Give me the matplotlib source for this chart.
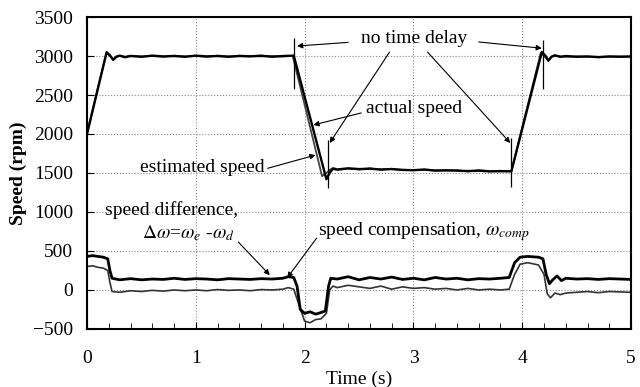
import matplotlib
matplotlib.use("Agg")
import matplotlib.pyplot as plt
from matplotlib.ticker import MultipleLocator

plt.rcParams["font.family"] = ["Liberation Serif", "DejaVu Serif"]
plt.rcParams["mathtext.fontset"] = "stix"

# ── Data ──────────────────────────────────────────────────────────────────
t_act = [0.00, 0.06, 0.12, 0.18, 0.21, 0.24, 0.27, 0.30, 0.35, 0.40, 0.50, 0.60,
         0.70, 0.80, 0.90, 1.00, 1.10, 1.20, 1.30, 1.40, 1.50, 1.60, 1.70, 1.80,
         1.90, 2.20, 2.23, 2.26, 2.30, 2.40, 2.50, 2.60, 2.70, 2.80, 2.90, 3.00,
         3.10, 3.20, 3.30, 3.40, 3.50, 3.60, 3.70, 3.80, 3.90, 4.18, 4.21, 4.24,
         4.27, 4.30, 4.35, 4.40, 4.50, 4.60, 4.70, 4.80, 4.90, 5.00]
spd_act = [2000, 2350, 2700, 3050, 3010, 2950, 2990, 3005, 2985, 3000, 2990, 3005,
           2995, 3000, 2990, 3005, 2995, 3000, 2990, 3000, 2995, 3005, 2990, 3000,
           3005, 1420, 1500, 1560, 1545, 1560, 1550, 1555, 1545, 1550, 1540, 1535,
           1545, 1530, 1535, 1530, 1525, 1530, 1520, 1525, 1520, 3050, 3010, 2940,
           2990, 3010, 2990, 3000, 2990, 2995, 2985, 2995, 2990, 2995]

t_est = [0.00, 0.06, 0.12, 0.18, 0.21, 0.24, 0.27, 0.30, 0.35, 0.40, 0.50, 0.60,
         0.70, 0.80, 0.90, 1.00, 1.10, 1.20, 1.30, 1.40, 1.50, 1.60, 1.70, 1.80,
         1.89, 2.16, 2.20, 2.24, 2.30, 2.40, 2.50, 2.60, 2.70, 2.80, 2.90, 3.00,
         3.10, 3.20, 3.30, 3.40, 3.50, 3.60, 3.70, 3.80, 3.90, 4.17, 4.20, 4.24,
         4.27, 4.30, 4.35, 4.40, 4.50, 4.60, 4.70, 4.80, 4.90, 5.00]
spd_est = [2010, 2360, 2710, 3040, 3000, 2960, 2995, 3000, 2990, 3005, 2995, 3000,
           2990, 3005, 2995, 3000, 2990, 3005, 2995, 3005, 3000, 2995, 3000, 2995,
           3000, 1460, 1500, 1550, 1540, 1555, 1545, 1560, 1540, 1555, 1535, 1540,
           1540, 1535, 1530, 1535, 1520, 1535, 1525, 1520, 1525, 3040, 3000, 2950,
           2995, 3000, 2995, 2990, 2995, 2990, 2990, 2990, 2995, 2990]

t_dw = [0.00, 0.05, 0.10, 0.15, 0.19, 0.21, 0.23, 0.30, 0.40, 0.50, 0.60, 0.70,
        0.80, 0.90, 1.00, 1.10, 1.20, 1.30, 1.40, 1.50, 1.60, 1.70, 1.80, 1.85,
        1.90, 1.93, 1.96, 2.00, 2.05, 2.10, 2.15, 2.19, 2.22, 2.24, 2.30, 2.40,
        2.50, 2.60, 2.70, 2.80, 2.90, 3.00, 3.10, 3.20, 3.30, 3.40, 3.50, 3.60,
        3.70, 3.80, 3.88, 3.93, 3.98, 4.05, 4.15, 4.19, 4.22, 4.25, 4.28, 4.32,
        4.36, 4.40, 4.50, 4.60, 4.70, 4.80, 4.90, 5.00]
dw = [430, 440, 430, 420, 400, 250, 150, 130, 145, 130, 140, 135,
      150, 135, 145, 140, 130, 145, 140, 135, 145, 140, 150, 170,
      160, 50, -250, -300, -280, -310, -290, -270, 50, 150, 140, 170,
      130, 160, 140, 165, 135, 150, 130, 160, 140, 150, 130, 145,
      140, 150, 160, 350, 420, 430, 420, 400, 200, 80, 130, 180,
      120, 150, 140, 145, 135, 145, 140, 135]

t_comp = [0.00, 0.05, 0.10, 0.15, 0.19, 0.21, 0.23, 0.30, 0.40, 0.50, 0.60, 0.70,
          0.80, 0.90, 1.00, 1.10, 1.20, 1.30, 1.40, 1.50, 1.60, 1.70, 1.80, 1.85,
          1.90, 1.95, 2.00, 2.05, 2.10, 2.15, 2.20, 2.23, 2.26, 2.30, 2.40, 2.50,
          2.60, 2.70, 2.80, 2.90, 3.00, 3.10, 3.20, 3.30, 3.40, 3.50, 3.60, 3.70,
          3.80, 3.88, 3.93, 3.98, 4.05, 4.15, 4.20, 4.23, 4.26, 4.30, 4.35, 4.40,
          4.50, 4.60, 4.70, 4.80, 4.90, 5.00]
comp = [300, 310, 290, 280, 250, 100, -20, -30, -10, -20, -5, -15,
        0, -10, 0, -10, 5, -5, 0, -10, 5, 0, 10, 30,
        10, -200, -400, -420, -380, -370, -300, 0, 50, 30, 60, 40,
        20, 50, 10, 40, 20, 30, 10, 20, 0, 20, 0, 10,
        0, 10, 200, 330, 350, 320, 200, -50, -100, -40, -60, -40,
        -30, -20, -35, -20, -25, -30]

# "no time delay" marker bars
marker_t = [1.90, 2.215, 3.90, 4.19]
marker_lo = [2580, 1310, 1320, 2580]
marker_hi = [3230, 1920, 1950, 3210]

FS = 14

fig, ax = plt.subplots(figsize=(6.4, 3.87), dpi=100)
fig.subplots_adjust(left=0.136, right=0.986, bottom=0.150, top=0.956)

ax.plot(t_est, spd_est, color="#444444", linewidth=1.3)
ax.plot(t_act, spd_act, color="black", linewidth=1.7)
ax.plot(t_comp, comp, color="#333333", linewidth=1.2)
ax.plot(t_dw, dw, color="black", linewidth=2.0)
ax.vlines(marker_t, marker_lo, marker_hi, color="black", linewidth=0.9)

ax.set_xlim(0, 5)
ax.set_ylim(-500, 3500)
ax.xaxis.set_major_locator(MultipleLocator(1))
ax.xaxis.set_minor_locator(MultipleLocator(0.2))
ax.yaxis.set_major_locator(MultipleLocator(500))
ax.tick_params(axis="both", which="both", direction="in", labelsize=FS)
ax.tick_params(axis="x", which="major", length=5, pad=15)
ax.tick_params(axis="x", which="minor", length=4)
ax.tick_params(axis="y", which="major", length=5, pad=10)
ax.grid(True, which="major", color="#888888", linestyle=":", linewidth=0.8)
for s in ax.spines.values():
    s.set_linewidth(1.5)

ax.set_xlabel("Time (s)", fontsize=FS, labelpad=3)
ax.set_ylabel("Speed (rpm)", fontsize=FS, fontweight="bold", labelpad=4)

arrow = dict(arrowstyle="-|>", color="black", lw=0.8, mutation_scale=8,
             shrinkA=0, shrinkB=0)
ax.text(3.01, 3230, "no time delay", fontsize=FS, ha="center", va="center")
ax.annotate("", xy=(1.93, 3128), xytext=(2.40, 3175), arrowprops=arrow)
ax.annotate("", xy=(4.18, 3100), xytext=(3.60, 3180), arrowprops=arrow)
ax.annotate("", xy=(2.23, 1885), xytext=(2.78, 3050), arrowprops=arrow)
ax.annotate("", xy=(3.89, 1885), xytext=(3.13, 3050), arrowprops=arrow)

ax.text(3.01, 2330, "actual speed", fontsize=FS, ha="center", va="center")
ax.annotate("", xy=(2.08, 2115), xytext=(2.52, 2270), arrowprops=arrow)

ax.text(1.06, 1564, "estimated speed", fontsize=FS, ha="center", va="center")
ax.annotate("", xy=(2.10, 1730), xytext=(1.66, 1560), arrowprops=arrow)

ax.text(0.165, 1025, "speed difference,", fontsize=FS, ha="left", va="center")
ax.text(1.36, 730, r"$\Delta\omega$=$\omega_e$ -$\omega_d$", fontsize=FS,
        ha="right", va="center")
ax.annotate("", xy=(1.68, 190), xytext=(1.39, 615), arrowprops=arrow)

ax.text(2.12, 745, r"speed compensation, $\omega_{comp}$", fontsize=FS,
        ha="left", va="center")
ax.annotate("", xy=(1.84, 155), xytext=(2.11, 665), arrowprops=arrow)

fig.savefig("out.png", dpi=100)
